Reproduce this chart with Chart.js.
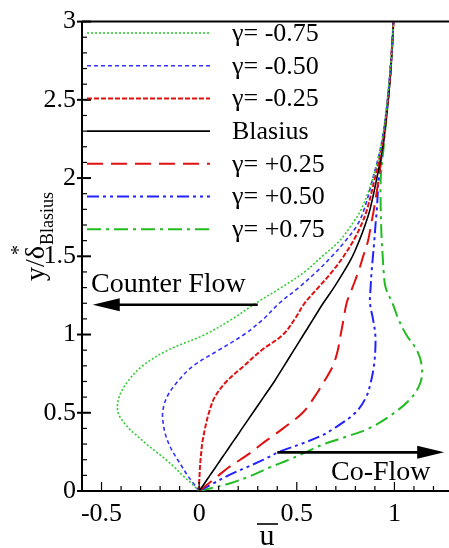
<!DOCTYPE html>
<html>
<head>
<meta charset="utf-8">
<script src="https://cdn.jsdelivr.net/npm/chart.js@4.4.1/dist/chart.umd.min.js"></script>
<style>
  html, body { margin: 0; padding: 0; background: #fff; overflow: hidden; }
  #wrap { width: 470px; height: 548px; }
</style>
</head>
<body>
<div id="wrap"><canvas id="profile-chart" width="470" height="548"></canvas></div>
<script>
// wall-normal stations, y / delta*_Blasius
const yGrid = [0, 0.05, 0.1, 0.15, 0.2, 0.25, 0.3, 0.35, 0.4, 0.5, 0.6, 0.7, 0.8, 0.9, 1.0,
               1.1, 1.2, 1.3, 1.4, 1.5, 1.6, 1.7, 1.8, 2.0, 2.2, 2.4, 2.6, 2.8, 3.0];

// mean streamwise velocity for each gamma
const uNeg075 = [0, -0.04, -0.085, -0.125, -0.17, -0.22, -0.27, -0.315, -0.36, -0.415, -0.41, -0.365, -0.29, -0.16, 0.03,
                 0.17, 0.29, 0.42, 0.54, 0.63, 0.72, 0.78, 0.83, 0.89, 0.93, 0.955, 0.972, 0.986, 0.995];
const uNeg050 = [0, -0.03, -0.06, -0.085, -0.11, -0.135, -0.155, -0.17, -0.18, -0.187, -0.165, -0.11, -0.03, 0.1, 0.23,
                 0.33, 0.41, 0.51, 0.6, 0.68, 0.75, 0.81, 0.845, 0.89, 0.93, 0.955, 0.972, 0.986, 0.995];
const uNeg025 = [0, 0, 0.002, 0.004, 0.007, 0.011, 0.015, 0.022, 0.03, 0.05, 0.08, 0.14, 0.23, 0.32, 0.43,
                 0.49, 0.54, 0.61, 0.68, 0.74, 0.79, 0.83, 0.86, 0.9, 0.935, 0.958, 0.974, 0.986, 0.995];
const uBlasius = [0, 0.028, 0.055, 0.083, 0.11, 0.138, 0.165, 0.193, 0.22, 0.275, 0.33, 0.385, 0.435, 0.485, 0.535,
                  0.585, 0.635, 0.69, 0.74, 0.785, 0.82, 0.85, 0.875, 0.91, 0.94, 0.96, 0.976, 0.987, 0.995];
const uPos025 = [0, 0.05, 0.1, 0.15, 0.21, 0.27, 0.32, 0.375, 0.43, 0.53, 0.59, 0.64, 0.685, 0.71, 0.725,
                 0.74, 0.755, 0.785, 0.815, 0.84, 0.865, 0.88, 0.895, 0.92, 0.94, 0.958, 0.974, 0.986, 0.995];
const uPos050 = [0, 0.075, 0.15, 0.24, 0.33, 0.41, 0.52, 0.62, 0.69, 0.8, 0.855, 0.88, 0.895, 0.902, 0.902,
                 0.89, 0.875, 0.878, 0.883, 0.89, 0.897, 0.903, 0.91, 0.92, 0.94, 0.958, 0.974, 0.986, 0.995];
const uPos075 = [0, 0.16, 0.27, 0.36, 0.46, 0.55, 0.64, 0.76, 0.87, 1.0, 1.09, 1.135, 1.14, 1.115, 1.06,
                 1.02, 0.99, 0.955, 0.945, 0.94, 0.935, 0.932, 0.93, 0.93, 0.945, 0.96, 0.975, 0.987, 0.995];

const seriesLabels = ['γ= -0.75', 'γ= -0.50', 'γ= -0.25', 'Blasius', 'γ= +0.25', 'γ= +0.50', 'γ= +0.75'];
const seriesValues = [uNeg075, uNeg050, uNeg025, uBlasius, uPos025, uPos050, uPos075];

const xTicks = [-0.5, 0, 0.5, 1];
const yTicks = [0, 0.5, 1, 1.5, 2, 2.5, 3];

const SERIF = "'Liberation Serif', 'Times New Roman', serif";

const lineStyles = [
  { color: '#33cc33', dash: [2, 2], width: 1.6 },
  { color: '#3333ff', dash: [4, 3], width: 1.6 },
  { color: '#e01010', dash: [5, 2], width: 2 },
  { color: '#000000', dash: [], width: 1.6 },
  { color: '#e01010', dash: [16, 8], width: 2 },
  { color: '#2222ff', dash: [12, 4, 3, 4, 3, 4], width: 2 },
  { color: '#22bb22', dash: [14, 5, 3, 5], width: 2 }
];

const datasets = seriesLabels.map((label, i) => ({
  label: label,
  data: seriesValues[i].map((u, k) => ({ x: u, y: yGrid[k] })),
  showLine: true,
  fill: false,
  tension: 0.35,
  pointRadius: 0,
  borderColor: lineStyles[i].color,
  borderDash: lineStyles[i].dash,
  borderWidth: lineStyles[i].width
}));

// legend, inward ticks, frame, arrows and axis titles
const decorations = {
  id: 'decorations',
  afterDraw(chart) {
    const { ctx, chartArea: area, scales: { x, y } } = chart;
    ctx.save();
    ctx.strokeStyle = '#000';
    ctx.fillStyle = '#000';

    // top frame line
    ctx.lineWidth = 2;
    ctx.beginPath();
    ctx.moveTo(area.left, area.top);
    ctx.lineTo(chart.width, area.top);
    ctx.stroke();

    // minor / major ticks
    ctx.lineWidth = 1.2;
    for (let i = -6; i <= 13; i++) {
      const px = x.getPixelForValue(i / 10);
      const len = i % 5 === 0 ? 9 : 5;
      ctx.beginPath();
      ctx.moveTo(px, area.bottom);
      ctx.lineTo(px, area.bottom - len);
      ctx.stroke();
    }
    for (let i = 0; i <= 30; i++) {
      const py = y.getPixelForValue(i / 10);
      const major = i % 5 === 0;
      ctx.lineWidth = major ? 2 : 1.2;
      ctx.beginPath();
      ctx.moveTo(area.left - (major ? 5 : 0), py);
      ctx.lineTo(area.left + (major ? 9 : 5), py);
      ctx.stroke();
    }

    // legend
    ctx.font = '26px ' + SERIF;
    ctx.textBaseline = 'middle';
    ctx.textAlign = 'left';
    chart.data.datasets.forEach((ds, i) => {
      const ly = 33 + i * 32.7;
      ctx.save();
      ctx.strokeStyle = ds.borderColor;
      ctx.lineWidth = ds.borderWidth;
      ctx.setLineDash(ds.borderDash);
      ctx.beginPath();
      ctx.moveTo(87, ly);
      ctx.lineTo(210, ly);
      ctx.stroke();
      ctx.restore();
      ctx.fillText(ds.label, 232, ly + 1);
    });

    // flow direction arrows
    const arrow = (x0, x1, yv) => {
      const a = x.getPixelForValue(x0), b = x.getPixelForValue(x1), py = y.getPixelForValue(yv);
      const dir = Math.sign(b - a);
      ctx.lineWidth = 2.6;
      ctx.setLineDash([]);
      ctx.beginPath();
      ctx.moveTo(a, py);
      ctx.lineTo(b - dir * 20, py);
      ctx.stroke();
      ctx.beginPath();
      ctx.moveTo(b, py);
      ctx.lineTo(b - dir * 27, py - 6.5);
      ctx.lineTo(b - dir * 27, py + 6.5);
      ctx.closePath();
      ctx.fill();
    };
    arrow(0.3, -0.545, 1.19);
    arrow(0.4, 1.255, 0.247);

    ctx.font = '28px ' + SERIF;
    ctx.textBaseline = 'alphabetic';
    ctx.fillText('Counter Flow', 91, 292);
    ctx.fillText('Co-Flow', 331, 480);

    // x title: u with overbar
    ctx.font = '30px ' + SERIF;
    ctx.textAlign = 'center';
    ctx.fillText('u', 267, 545);
    ctx.lineWidth = 1.6;
    ctx.beginPath();
    ctx.moveTo(257, 524);
    ctx.lineTo(278, 524);
    ctx.stroke();

    // y title: y/δ*_Blasius
    ctx.translate(44, 281);
    ctx.rotate(-Math.PI / 2);
    ctx.textAlign = 'left';
    ctx.font = '28px ' + SERIF;
    ctx.fillText('y/δ', 0, 0);
    const w = ctx.measureText('y/δ').width;
    ctx.font = '20px ' + SERIF;
    ctx.fillText('*', w - 9, -19);
    ctx.font = '18px ' + SERIF;
    ctx.fillText('Blasius', w + 1, 9);
    ctx.restore();
  }
};

const fmt = v => String(v);

function drawChart() {
  new Chart(document.getElementById('profile-chart').getContext('2d'), {
    type: 'scatter',
    data: { datasets: datasets },
    options: {
      responsive: false,
      animation: false,
      layout: { padding: { top: 17, right: 17, left: 0, bottom: 0 } },
      plugins: { legend: { display: false }, tooltip: { enabled: false } },
      scales: {
        x: {
          type: 'linear',
          min: -0.6,
          max: 1.3,
          afterFit: s => { s.height = 57; },
          afterBuildTicks: s => { s.ticks = xTicks.map(v => ({ value: v })); },
          grid: { display: false, drawTicks: false },
          border: { display: true, color: '#000', width: 2 },
          ticks: { color: '#000', padding: 8, maxRotation: 0, callback: fmt,
                   font: { family: SERIF, size: 26 } }
        },
        y: {
          type: 'linear',
          min: 0,
          max: 3,
          afterFit: s => { s.width = 82; },
          afterBuildTicks: s => { s.ticks = yTicks.map(v => ({ value: v })); },
          grid: { display: false, drawTicks: false },
          border: { display: true, color: '#000', width: 2 },
          ticks: { color: '#000', padding: 6, callback: fmt,
                   font: { family: SERIF, size: 26 } }
        }
      }
    },
    plugins: [decorations]
  });
}

// make sure the serif face is ready before the first paint
if (document.fonts && document.fonts.load) {
  Promise.all([
    document.fonts.load('26px "Liberation Serif"'),
    document.fonts.load('26px "Liberation Serif"', 'γδ')
  ]).then(drawChart, drawChart);
} else {
  drawChart();
}
</script>
</body>
</html>
